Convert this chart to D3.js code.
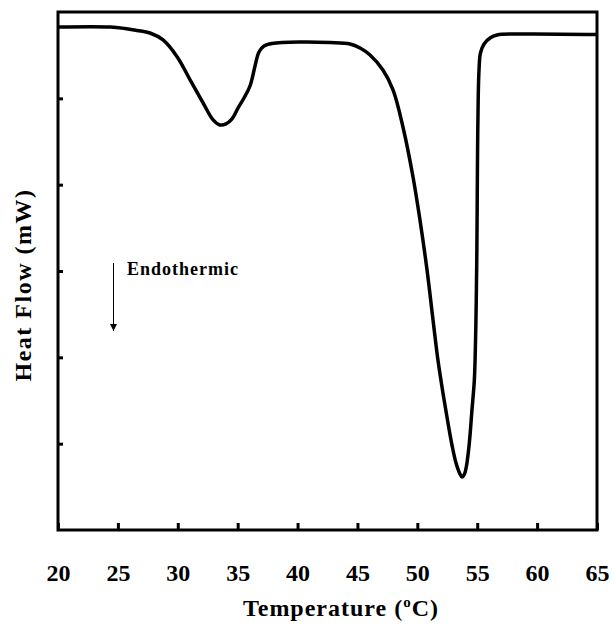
<!DOCTYPE html>
<html>
<head>
<meta charset="utf-8">
<script src="https://cdn.jsdelivr.net/npm/d3@7"></script>
<style>
  body { margin: 0; background: #fff; }
  svg { display: block; }
</style>
</head>
<body>
<div id="chart"></div>
<script>
// DSC trace, temperature in oC and heat flow in arbitrary units (no y labels)
var temps = [20.00, 24.34, 25.59, 26.60, 27.68, 28.77, 29.94, 31.04, 32.11, 32.95, 33.52, 34.03, 34.53, 35.03, 35.53, 36.03, 36.45, 36.78, 37.20, 37.87, 40.20, 42.71, 44.38, 45.22, 46.05, 47.13, 47.97, 48.80, 49.64, 50.22, 50.81, 51.31, 51.72, 52.14, 52.56, 52.89, 53.23, 53.56, 53.73, 53.94, 54.10, 54.25, 54.40, 54.54, 54.76, 54.86, 54.92, 54.97, 55.00, 55.03, 55.08, 55.15, 55.27, 55.57, 56.07, 56.65, 58.57, 65.00];
var heatFlow = [5.826, 5.826, 5.809, 5.786, 5.757, 5.676, 5.482, 5.212, 4.948, 4.751, 4.692, 4.704, 4.762, 4.888, 5.004, 5.143, 5.375, 5.537, 5.606, 5.635, 5.653, 5.647, 5.630, 5.583, 5.502, 5.328, 5.097, 4.668, 4.089, 3.591, 3.012, 2.433, 1.969, 1.587, 1.239, 0.985, 0.776, 0.649, 0.614, 0.649, 0.741, 0.892, 1.100, 1.355, 1.738, 2.201, 2.664, 3.243, 3.823, 4.402, 4.981, 5.328, 5.525, 5.630, 5.699, 5.734, 5.745, 5.740];

var xTicks = [20, 25, 30, 35, 40, 45, 50, 55, 60, 65];
var yTicks = [1, 2, 3, 4, 5];

var w = 613, h = 624;
var margin = {left: 58, right: 16, top: 12, bottom: 94};
var plotRight = w - margin.right, plotBottom = h - margin.bottom;

var svg = d3.select("#chart").append("svg")
    .attr("width", w)
    .attr("height", h);

var x = d3.scaleLinear().domain([20, 65]).range([margin.left, plotRight]);
var y = d3.scaleLinear().domain([0, 6]).range([plotBottom, margin.top]);

var font = "'Liberation Serif', 'Times New Roman', serif";

// frame
svg.append("rect")
    .attr("x", margin.left)
    .attr("y", margin.top)
    .attr("width", plotRight - margin.left)
    .attr("height", plotBottom - margin.top)
    .attr("fill", "none")
    .attr("stroke", "#000")
    .attr("stroke-width", 3);

// x axis ticks (inward) and labels
var xAxis = d3.axisBottom(x)
    .tickValues(xTicks)
    .tickSizeInner(-7)
    .tickSizeOuter(0)
    .tickPadding(34);

var gx = svg.append("g")
    .attr("transform", "translate(0," + plotBottom + ")")
    .call(xAxis);
gx.select(".domain").remove();
gx.selectAll("line").attr("stroke", "#000").attr("stroke-width", 3);
gx.selectAll("text")
    .attr("font-family", font)
    .attr("font-weight", "bold")
    .attr("font-size", 24)
    .attr("fill", "#000");

// y axis ticks only
var yAxis = d3.axisLeft(y)
    .tickValues(yTicks)
    .tickSizeInner(-5)
    .tickSizeOuter(0)
    .tickFormat("");

var gy = svg.append("g")
    .attr("transform", "translate(" + margin.left + ",0)")
    .call(yAxis);
gy.select(".domain").remove();
gy.selectAll("line").attr("stroke", "#000").attr("stroke-width", 3);

// curve
var data = temps.map(function (t, i) { return {t: t, v: heatFlow[i]}; });

var line = d3.line()
    .x(function (d) { return x(d.t); })
    .y(function (d) { return y(d.v); })
    .curve(d3.curveCatmullRom.alpha(0.5));

svg.append("path")
    .datum(data)
    .attr("d", line)
    .attr("fill", "none")
    .attr("stroke", "#000")
    .attr("stroke-width", 3.5)
    .attr("stroke-linejoin", "round");

// endothermic arrow
var defs = svg.append("defs");
defs.append("marker")
    .attr("id", "arrow")
    .attr("viewBox", "0 0 10 10")
    .attr("refX", 10)
    .attr("refY", 5)
    .attr("markerWidth", 7)
    .attr("markerHeight", 8)
    .attr("markerUnits", "userSpaceOnUse")
    .attr("orient", "auto")
    .append("path")
    .attr("d", "M0,0 L10,5 L0,10 z")
    .attr("fill", "#000");

svg.append("line")
    .attr("x1", 113.5)
    .attr("x2", 113.5)
    .attr("y1", 263)
    .attr("y2", 331)
    .attr("stroke", "#000")
    .attr("stroke-width", 1)
    .attr("marker-end", "url(#arrow)");

svg.append("text")
    .attr("x", 127)
    .attr("y", 275)
    .attr("font-family", font)
    .attr("font-weight", "bold")
    .attr("font-size", 18)
    .attr("letter-spacing", 1)
    .text("Endothermic");

// axis titles
var xt = svg.append("text")
    .attr("x", 341)
    .attr("y", 616)
    .attr("text-anchor", "middle")
    .attr("font-family", font)
    .attr("font-weight", "bold")
    .attr("font-size", 24)
    .attr("letter-spacing", 1);
xt.append("tspan").text("Temperature (");
xt.append("tspan").attr("font-size", 15).attr("dy", -9).text("o");
xt.append("tspan").attr("dy", 9).text("C)");

svg.append("text")
    .attr("transform", "translate(31,285) rotate(-90)")
    .attr("text-anchor", "middle")
    .attr("font-family", font)
    .attr("font-weight", "bold")
    .attr("font-size", 24)
    .attr("letter-spacing", 1.5)
    .text("Heat Flow (mW)");
</script>
</body>
</html>
